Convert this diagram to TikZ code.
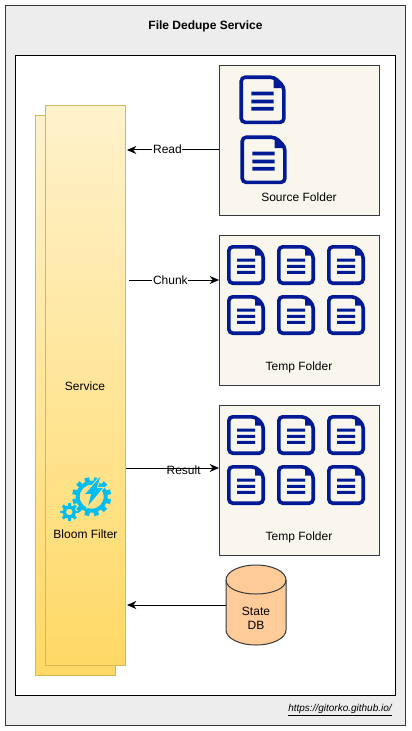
\documentclass[tikz,border=0pt]{standalone}
\usepackage{fontspec}
\setmainfont{Liberation Sans}
\usepackage{xcolor}
\usetikzlibrary{arrows.meta, positioning}
\definecolor{docblue}{HTML}{001A96}
\definecolor{gearblue}{HTML}{00BEF2}
\definecolor{edgegray}{HTML}{36393D}
\definecolor{svcedge}{HTML}{D6B656}
\definecolor{svctop}{HTML}{FFF2CC}
\definecolor{svcbottom}{HTML}{FFD966}
\definecolor{boltedge}{HTML}{FEE48F}
\definecolor{folderfill}{HTML}{F9F7ED}
\definecolor{dbfill}{HTML}{FFCC99}
\begin{document}
\begin{tikzpicture}[x=0.75pt, y=-0.75pt,
  box/.style={draw, inner sep=0pt, outer sep=0pt, line width=0.75pt},
  outerbox/.style={box, draw=edgegray, fill=black!7, minimum width=300pt, minimum height=540pt},
  innerbox/.style={box, fill=white, minimum width=285pt, minimum height=480pt},
  svc/.style={box, draw=svcedge, top color=svctop, bottom color=svcbottom,
              minimum width=60pt, minimum height=420pt},
  folder/.style={box, draw=edgegray, fill=folderfill, minimum width=120pt, minimum height=112.5pt},
  dbcyl/.style={draw=edgegray, fill=dbfill, line width=0.75pt},
  lbl/.style={font=\fontsize{9}{10.5}\selectfont, inner sep=1pt, align=center},
  arr/.style={-{Stealth[length=7pt,width=6pt]}, line width=0.75pt},
  docicon/.pic={
    \draw[docblue, line width=2.7pt, rounded corners=3pt]
      (28.5,1.8) -- (1.8,1.8) -- (1.8,38.2) -- (36.2,38.2) -- (36.2,9.5) -- cycle;
    \fill[docblue] (28,1) -- (37,10.5) -- (28,10.5) -- cycle;
    \fill[docblue] (10,13.5) rectangle (28,16.5) (10,19.8) rectangle (28,22.8) (10,25.8) rectangle (28,28.8);
  },
]
\useasboundingbox (0,0) rectangle (411,731);
% Frames
\node[outerbox] at (205.3,365.3) (outer) {};
\node[innerbox] at (205.3,375.3) (inner) {};
\node[font=\fontsize{9}{10.5}\selectfont\bfseries] at (205.5,26) (title) {File Dedupe Service};
\node[font=\fontsize{7.5}{9}\selectfont\itshape] at (340,710) (url) {\underline{https://gitorko.github.io/}};
% Service stack
\node[svc] at (75.4,395.3) (svcback) {};
\node[svc] at (85.4,385.3) (service) {};
\node[lbl] at (85,386) (svclbl) {Service};
\node[lbl] at (85.5,534) (bloomlbl) {Bloom Filter};
% Gears
\draw[gearblue, line width=3pt] (91.7,496.7) circle (14);
\foreach \a in {15,45,...,345}
  \draw[gearblue, line width=3.6pt] (91.7,496.7) ++(\a:15) -- ++(\a:4.5);
\draw[gearblue, line width=2.6pt] (69.3,512) circle (5.2);
\foreach \a in {0,45,...,315}
  \draw[gearblue, line width=2.2pt] (69.3,512) ++(\a:5.5) -- ++(\a:3.7);
\fill[gearblue, draw=boltedge, line width=0.6pt]
  (101.5,474.5) -- (84,494.5) -- (90.5,494.5) -- (87,508) -- (104,487.5) -- (97.5,487.5) -- cycle;
% Folders
\node[folder] at (299,140.3) (source) {};
\node[folder] at (299,310.3) (tempa) {};
\node[folder] at (299,480.3) (tempb) {};
\node[lbl] at (299,197) (sourcelbl) {Source Folder};
\node[lbl] at (299,367.5) (tempalbl) {Temp Folder};
\node[lbl] at (299,537.5) (tempblbl) {Temp Folder};
% File icons
\pic[scale=1.24] at (239,75) {docicon};  \pic[scale=1.24] at (240,135) {docicon};
\pic at (227,245) {docicon};  \pic at (277,245) {docicon};  \pic at (327,245) {docicon};
\pic at (227,295) {docicon};  \pic at (277,295) {docicon};  \pic at (327,295) {docicon};
\pic at (227,415) {docicon};  \pic at (277,415) {docicon};  \pic at (327,415) {docicon};
\pic at (227,465) {docicon};  \pic at (277,465) {docicon};  \pic at (327,465) {docicon};
% State store
\node[minimum width=45pt, minimum height=60pt, inner sep=0pt, outer sep=0pt] at (256,605) (db) {};
\draw[dbcyl] (226,580) .. controls (226,571.7) and (239.4,565) .. (256,565)
  .. controls (272.6,565) and (286,571.7) .. (286,580) -- (286,630)
  .. controls (286,638.3) and (272.6,645) .. (256,645)
  .. controls (239.4,645) and (226,638.3) .. (226,630) -- cycle;
\draw[dbcyl, fill=none] (226,580) .. controls (226,588.3) and (239.4,594) .. (256,594)
  .. controls (272.6,594) and (286,588.3) .. (286,580);
\node[lbl] at (256,618) (dblbl) {State\\DB};
% Arrows
\coordinate (svcread) at (127,150);
\coordinate (svcchunk) at (129,280);
\coordinate (svcresult) at (126,468);
\coordinate (svcstate) at (127,605);
\draw[arr] (source.west |- svcread) -- (svcread)
  node[lbl,pos=0.56,fill=white,inner sep=0.5pt,yshift=0.75pt]{Read};
\draw[arr] (svcchunk) -- (tempa.west |- svcchunk)
  node[lbl,pos=0.46,fill=white,inner sep=0.5pt]{Chunk};
\draw[arr] (svcresult) -- (tempb.west |- svcresult)
  node[lbl,pos=0.62,yshift=-1.9pt,inner sep=0.5pt]{Result};
\draw[arr] (db.west) -- (svcstate);
\end{tikzpicture}
\end{document}
